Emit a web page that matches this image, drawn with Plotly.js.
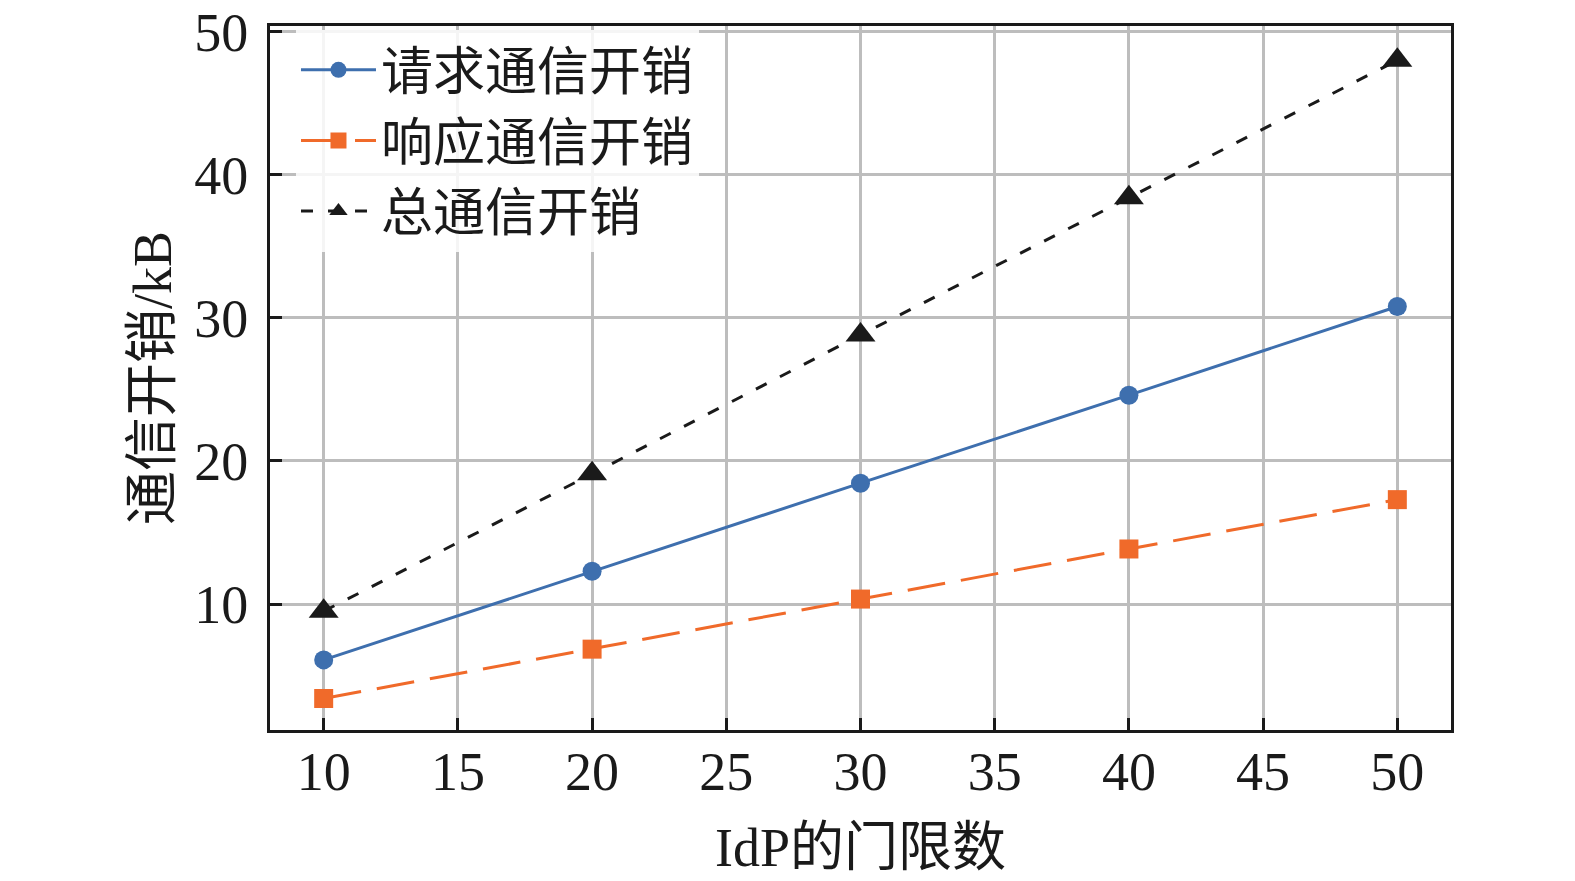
<!DOCTYPE html>
<html>
<head>
<meta charset="utf-8">
<script src="https://cdn.plot.ly/plotly-3.0.1.min.js"></script>
<style>
  body { margin: 0; background: #fff; }
  #chart { width: 1575px; height: 881px; }
</style>
</head>
<body>
<div id="chart"></div>
<script>
// IdP threshold values and communication cost (kB)
var thresholds = [10, 20, 30, 40, 50];
var requestCost = [6.1, 12.3, 18.45, 24.6, 30.8];
var responseCost = [3.4, 6.85, 10.35, 13.85, 17.3];
var totalCost = [9.5, 19.1, 28.8, 38.4, 48.0];
var seriesNames = ['请求通信开销', '响应通信开销', '总通信开销'];

var fontFamily = 'Liberation Serif, Times New Roman, Noto Sans CJK SC, serif';

var trace1 = {
  x: thresholds,
  y: requestCost,
  name: seriesNames[0],
  mode: 'lines+markers',
  type: 'scatter',
  line: { color: '#3e6fae', width: 3 },
  marker: { symbol: 'circle', size: 19, color: '#3e6fae' }
};

var trace2 = {
  x: thresholds,
  y: responseCost,
  name: seriesNames[1],
  mode: 'lines+markers',
  type: 'scatter',
  line: { color: '#f06a2a', width: 3, dash: '38px,16px' },
  marker: { symbol: 'square', size: 19, color: '#f06a2a' }
};

var trace3 = {
  x: thresholds,
  y: totalCost,
  name: seriesNames[2],
  mode: 'lines+markers',
  type: 'scatter',
  line: { color: '#1a1a1a', width: 3, dash: '12px,15px' },
  marker: { symbol: 'triangle-up', size: 26, color: '#1a1a1a' }
};

var data = [trace1, trace2, trace3];

var layout = {
  width: 1575,
  height: 881,
  paper_bgcolor: '#fff',
  plot_bgcolor: '#fff',
  font: { family: fontFamily, size: 52, color: '#1a1a1a' },
  margin: { l: 270, r: 124, t: 26, b: 151 },
  showlegend: true,
  legend: {
    x: 0.022, y: 0.995, xanchor: 'left', yanchor: 'top',
    bgcolor: 'rgba(255,255,255,0.85)',
    borderwidth: 0,
    itemwidth: 75,
    font: { family: fontFamily, size: 52, color: '#1a1a1a' },
    tracegroupgap: 0
  },
  xaxis: {
    range: [8, 52],
    tickvals: [10, 15, 20, 25, 30, 35, 40, 45, 50],
    ticks: 'inside', ticklen: 12, tickwidth: 3, tickcolor: '#1a1a1a',
    showgrid: true, gridcolor: '#bdbdbd', gridwidth: 3,
    showline: true, linecolor: '#1a1a1a', linewidth: 3, mirror: true,
    zeroline: false,
    tickfont: { size: 54 },
    ticklabelstandoff: -8,
    title: { text: 'IdP的门限数', font: { size: 54 }, standoff: 28 }
  },
  yaxis: {
    range: [1.2, 50.4],
    tickvals: [10, 20, 30, 40, 50],
    ticks: 'inside', ticklen: 12, tickwidth: 3, tickcolor: '#1a1a1a',
    showgrid: true, gridcolor: '#bdbdbd', gridwidth: 3,
    showline: true, linecolor: '#1a1a1a', linewidth: 3, mirror: true,
    zeroline: false,
    tickfont: { size: 54 },
    ticklabelstandoff: 8,
    title: { text: '通信开销/kB', font: { size: 54 }, standoff: 6 }
  }
};

Plotly.newPlot('chart', data, layout, { displayModeBar: false, staticPlot: true });
</script>
</body>
</html>
